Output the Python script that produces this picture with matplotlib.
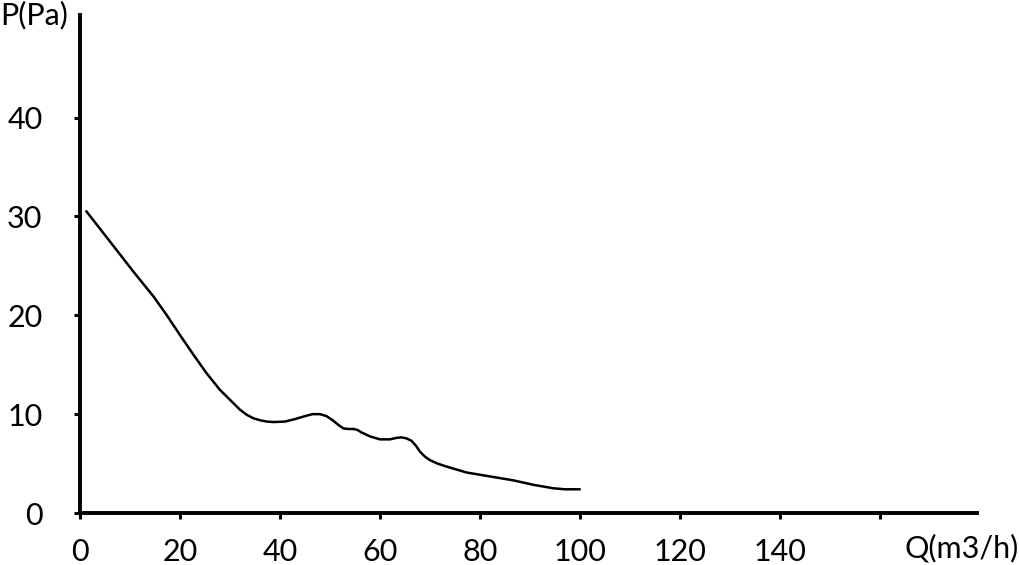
import matplotlib
matplotlib.use("Agg")
from matplotlib import pyplot as plt

plt.rcParams['font.family'] = ['Lato', 'DejaVu Sans']

# flow Q (m3/h) and pressure P (Pa)
q = [1.3, 6.7, 10.7, 14.7, 17.3, 20, 22.7, 25.3, 28, 29.4, 30.7, 32, 33.3, 34.6, 36, 37.4, 38.7,
     41, 43, 45, 46.5, 48, 49.3, 50.5, 51.7, 52.7, 53.7, 54.7, 55.5, 56.3, 58,
     60, 62, 63.3, 64.3, 65.3, 66.3, 67.2, 68, 69, 70, 71.5, 73.3, 77.3,
     82, 86.7, 90.7, 94.7, 97, 99.9]
p = [30.5, 27.0, 24.4, 21.9, 20.05, 18.0, 16.0, 14.15, 12.45, 11.75, 11.1, 10.45, 9.95, 9.6, 9.38, 9.25, 9.2,
     9.25, 9.5, 9.8, 10.0, 10.0, 9.8, 9.4, 8.9, 8.55, 8.5, 8.5, 8.4, 8.15, 7.75,
     7.45, 7.45, 7.6, 7.65, 7.55, 7.3, 6.8, 6.2, 5.7, 5.35, 5.0, 4.7, 4.1,
     3.7, 3.3, 2.85, 2.5, 2.4, 2.4]

xticks = [0, 20, 40, 60, 80, 100, 120, 140, 160]
xtick_labels = ['0', '20', '40', '60', '80', '100', '120', '140', '']
yticks = [0, 10, 20, 30, 40]

fig = plt.figure(figsize=(10.19, 5.65), dpi=100)
ax = fig.add_axes([0.0785, 0.092, 0.8803, 0.882])
ax.plot(q, p, color='black', linewidth=1.8, solid_joinstyle='round')

ax.set_xlim(0, 179.4)
ax.set_ylim(0, 50.4)
ax.set_xticks(xticks)
ax.set_xticklabels(xtick_labels)
ax.set_yticks(yticks)

for side in ['top', 'right']:
    ax.spines[side].set_visible(False)
for side in ['left', 'bottom']:
    ax.spines[side].set_linewidth(2.8)
    ax.spines[side].set_capstyle('projecting')

ax.tick_params(axis='both', direction='out', length=4, width=2.2, labelsize=22,
               colors='black')
ax.tick_params(axis='y', pad=23)
ax.tick_params(axis='x', pad=14)

fig.text(0.0, 0.998, 'P(Pa)', fontsize=22, ha='left', va='top')
fig.text(1.0, 0.03, 'Q(m3/h)', fontsize=22, ha='right', va='center')

fig.savefig('out.png', dpi=100)
plt.close(fig)
